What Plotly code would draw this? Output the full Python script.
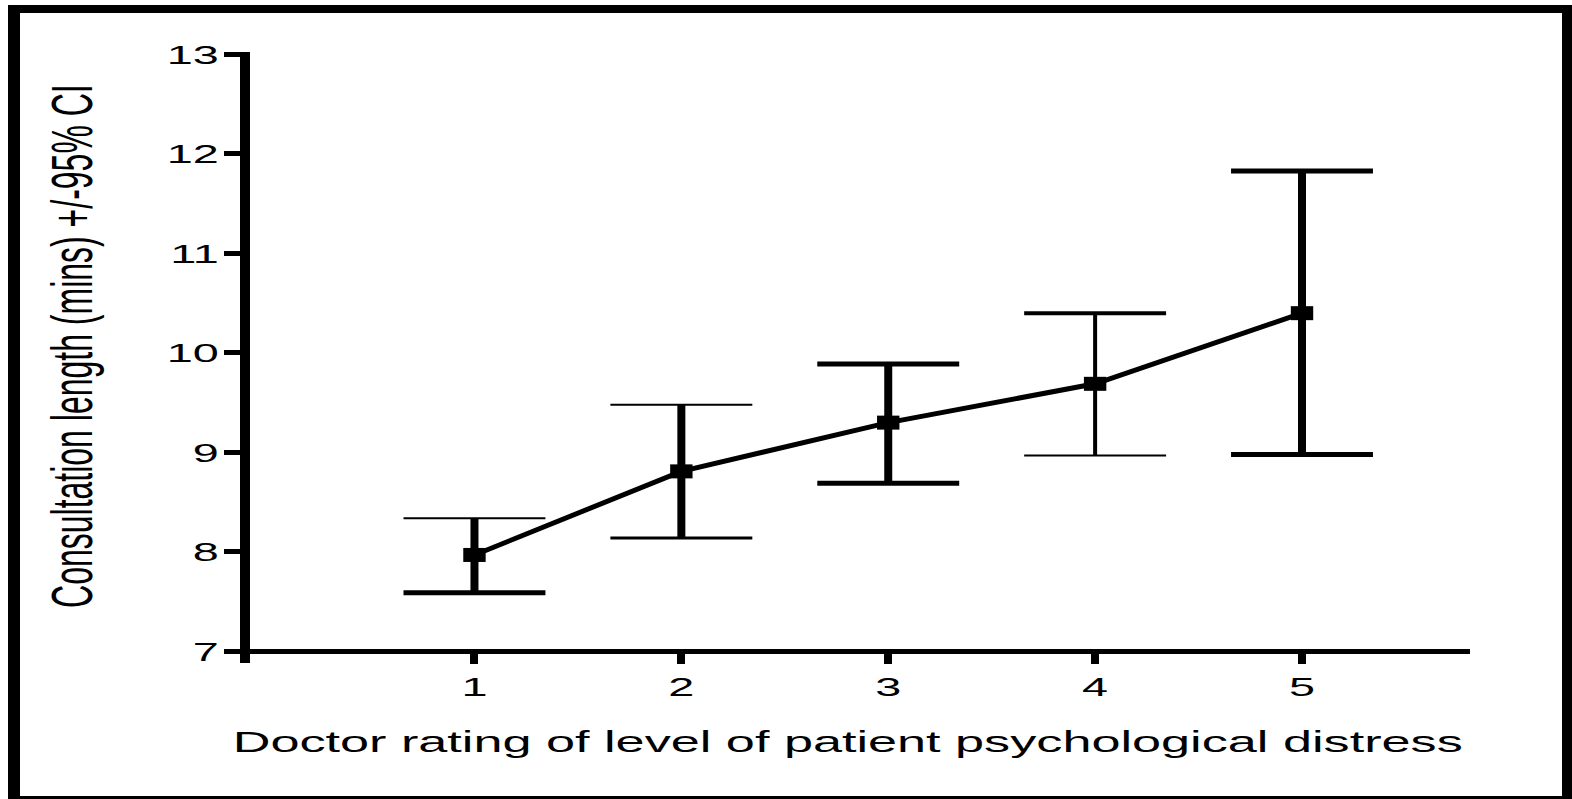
import plotly.graph_objects as go

# Mean consultation length with 95% confidence interval by distress rating
ratings = [1, 2, 3, 4, 5]
mean_minutes = [7.97, 8.81, 9.30, 9.69, 10.40]
ci_lower = [7.59, 8.14, 8.69, 8.97, 8.98]
ci_upper = [8.34, 9.48, 9.89, 10.40, 11.83]
y_ticks = [7, 8, 9, 10, 11, 12, 13]

x_title = "Doctor rating of level of patient psychological distress"
y_title = "Consultation length (mins) +/-95% CI"

# stroke weights (px) of each interval: stem, upper cap, lower cap
stem_w = [8, 8, 8, 4, 8]
upper_cap_w = [2, 2, 5, 4, 5]
lower_cap_w = [5, 3, 5, 2, 5]
CAP_HALF = 0.343  # cap half-width in rating units

W, H = 1572, 799
L, R, T, B = 250, 1470, 52, 663          # plot area in px
X_RANGE = [-0.085, 5.812]
Y_RANGE = [6.884, 13.025]
FONT = "Liberation Sans, Arial, Helvetica, sans-serif"


def px_x(px):
    return (px - L) / (R - L)


def px_y(py):
    return (B - py) / (B - T)


fig = go.Figure()

for x, lo, hi, sw, uw, lw in zip(ratings, ci_lower, ci_upper, stem_w, upper_cap_w, lower_cap_w):
    common = dict(mode="lines", hoverinfo="skip", showlegend=False)
    fig.add_trace(go.Scatter(x=[x, x], y=[lo, hi], line=dict(color="black", width=sw), **common))
    fig.add_trace(go.Scatter(x=[x - CAP_HALF, x + CAP_HALF], y=[hi, hi],
                             line=dict(color="black", width=uw), **common))
    fig.add_trace(go.Scatter(x=[x - CAP_HALF, x + CAP_HALF], y=[lo, lo],
                             line=dict(color="black", width=lw), **common))

fig.add_trace(go.Scatter(
    x=ratings, y=mean_minutes, mode="lines+markers", showlegend=False,
    line=dict(color="black", width=5),
    marker=dict(symbol="line-ew", size=16, color="black",
                line=dict(color="black", width=14)),
))

# heavy frame around the whole figure
frame = [
    (8, 5, 1572, 13),
    (8, 5, 20, 799),
    (1562, 5, 1572, 799),
    (8, 796, 1572, 799),
]
shapes = [
    dict(type="rect", xref="paper", yref="paper",
         x0=px_x(a), x1=px_x(c), y0=px_y(d), y1=px_y(b),
         fillcolor="black", line=dict(width=0), layer="above")
    for a, b, c, d in frame
]

fig.update_layout(
    width=W, height=H,
    margin=dict(l=L, r=W - R, t=T, b=H - B, pad=0, autoexpand=False),
    paper_bgcolor="white", plot_bgcolor="white",
    font=dict(family=FONT, color="black"),
    shapes=shapes,
    annotations=[
        dict(text=x_title, xref="paper", yref="paper", x=px_x(847), y=px_y(742),
             xanchor="center", yanchor="middle", showarrow=False,
             font=dict(size=29, family=FONT, color="black")),
        dict(text=y_title, xref="paper", yref="paper", x=px_x(72), y=px_y(346),
             xanchor="center", yanchor="middle", showarrow=False, textangle=-90,
             font=dict(size=32, family=FONT, color="black")),
    ],
    xaxis=dict(
        range=X_RANGE, tickvals=ratings, ticks="outside", ticklen=10, tickwidth=8,
        tickcolor="black", showline=True, linewidth=5, linecolor="black",
        showgrid=False, zeroline=False, anchor="free",
        position=(7 - Y_RANGE[0]) / (Y_RANGE[1] - Y_RANGE[0]),
        tickfont=dict(size=26, family=FONT, color="black"), automargin=False,
    ),
    yaxis=dict(
        range=Y_RANGE, tickvals=y_ticks, ticks="outside", ticklen=16, tickwidth=5,
        tickcolor="black", showline=True, linewidth=10, linecolor="black",
        showgrid=False, zeroline=False, anchor="x",
        tickfont=dict(size=26, family=FONT, color="black"), automargin=False,
    ),
)

# widen the lettering horizontally, keeping each label's anchor in place
stretch_js = """
var S = 1.8;
document.querySelectorAll('.main-svg text').forEach(function(t){
  if (!t.textContent) return;
  var bb;
  try { bb = t.getBBox(); } catch (e) { return; }
  var m = t.getCTM();
  var tr = t.getAttribute('transform') || '';
  var add;
  if (Math.abs(m.a) < 0.5) {
    var cy = bb.y + bb.height / 2;
    add = ' translate(0,' + cy + ') scale(1,' + S + ') translate(0,' + (-cy) + ')';
  } else {
    var a = t.getAttribute('text-anchor') || 'start';
    var cx = a === 'middle' ? bb.x + bb.width / 2 : (a === 'end' ? bb.x + bb.width : bb.x);
    add = ' translate(' + cx + ',0) scale(' + S + ',1) translate(' + (-cx) + ',0)';
  }
  t.setAttribute('transform', tr + add);
});
"""

fig.write_html("out.html", config={"displayModeBar": False}, post_script=stretch_js)
